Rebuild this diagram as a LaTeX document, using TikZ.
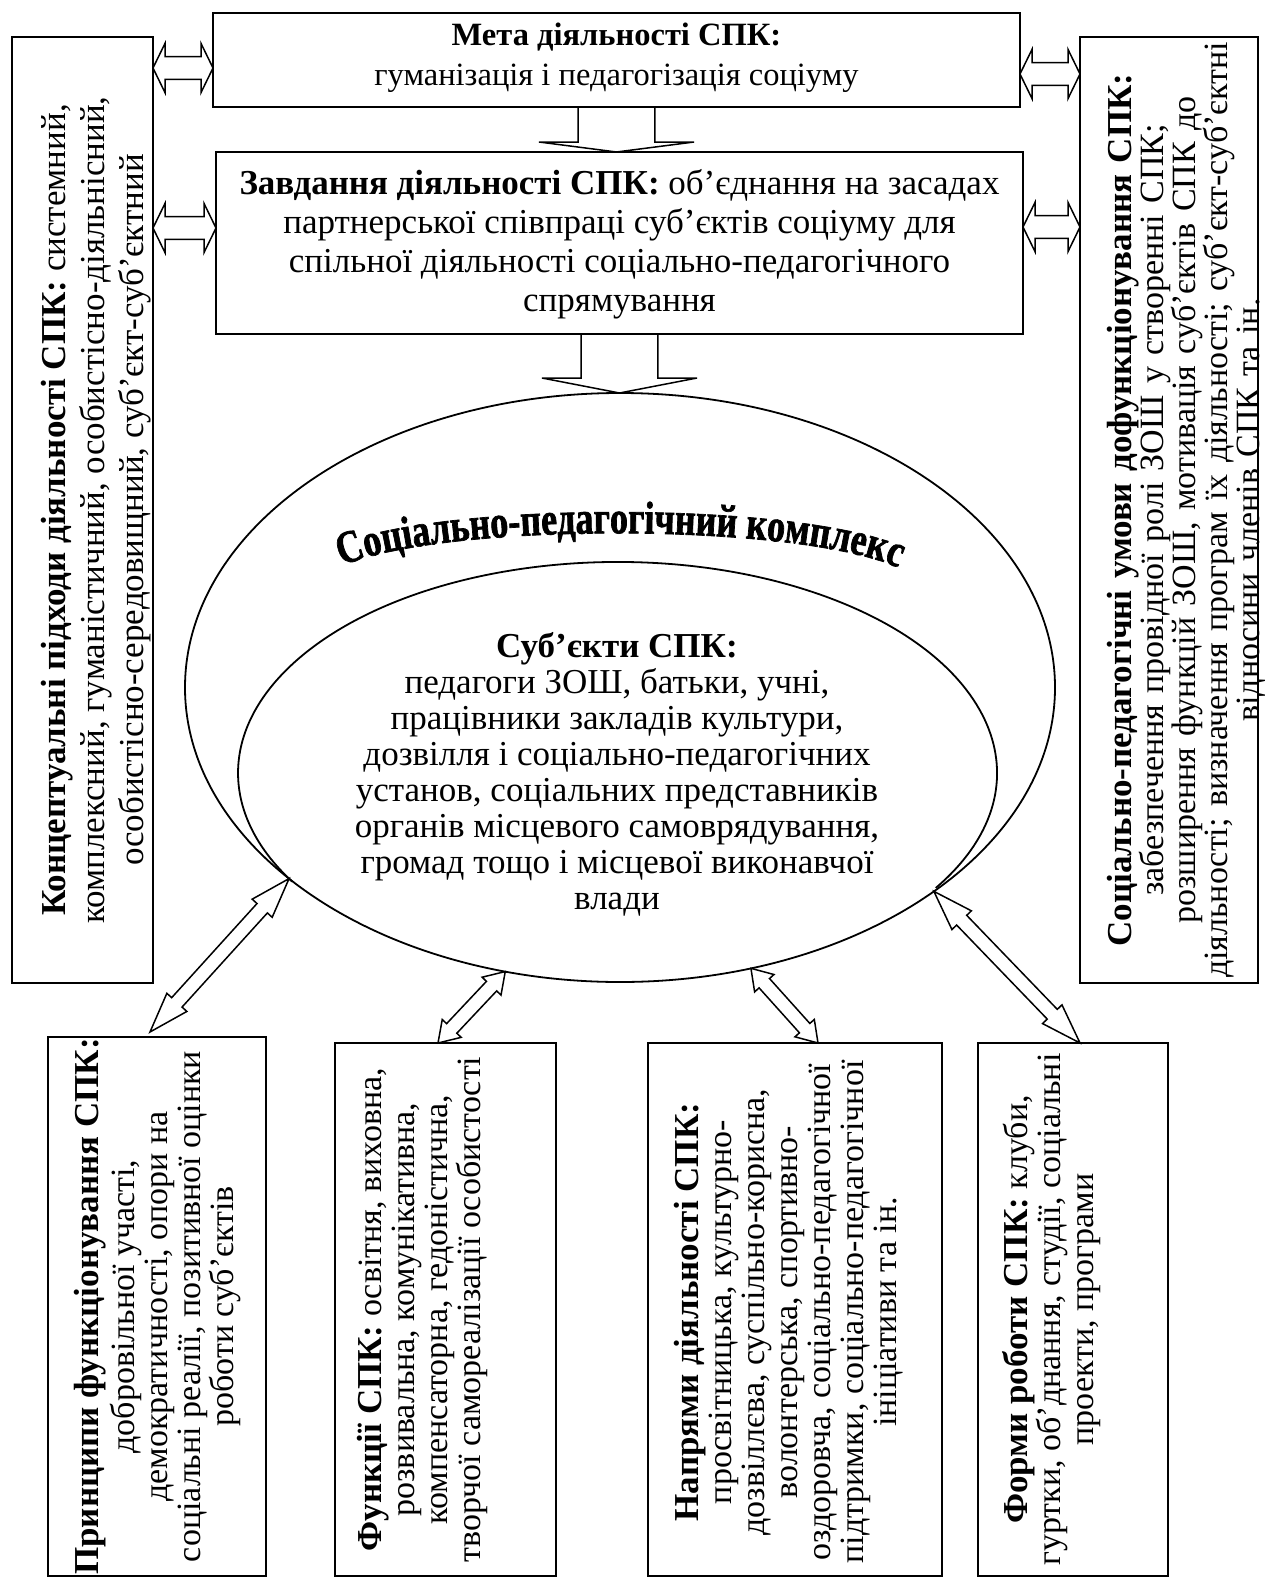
\documentclass[tikz,border=0pt]{standalone}
\usepackage{fontspec}
\setmainfont{Liberation Serif}
\newfontfamily\archfont[FakeStretch=0.78,FakeBold=1.5]{Liberation Serif}
\usetikzlibrary{shapes.geometric,calc,decorations.text}

\newcommand{\bigtxt}{\fontsize{35}{39}\selectfont}
\newcommand{\smtxt}{\fontsize{34}{33}\selectfont}

\tikzstyle{rbox} = [draw, line width=2.2pt, inner sep=0pt, outer sep=0pt]
\tikzstyle{oval} = [draw, ellipse, line width=1.8pt, inner sep=0pt, outer sep=0pt]
\tikzstyle{arr} = [draw, line width=1.5pt]
\tikzstyle{vtxt} = [rotate=90, align=center, inner sep=0pt]

% hollow double arrow: ends, shaft half width, head half width, head length
\newcommand{\dblarr}[5]{%
  \draw[arr] (#1) -- ($(#1)!#5!(#2)!#4!90:(#2)$) -- ($(#1)!#5!(#2)!#3!90:(#2)$)
    -- ($(#2)!#5!(#1)!#3!-90:(#1)$) -- ($(#2)!#5!(#1)!#4!-90:(#1)$) -- (#2)
    -- ($(#2)!#5!(#1)!#4!90:(#1)$) -- ($(#2)!#5!(#1)!#3!90:(#1)$)
    -- ($(#1)!#5!(#2)!#3!-90:(#2)$) -- ($(#1)!#5!(#2)!#4!-90:(#2)$) -- cycle;}
% hollow single arrow
\newcommand{\sglarr}[5]{%
  \draw[arr] ($(#1)!#3!90:(#2)$) -- ($(#2)!#5!(#1)!#3!-90:(#1)$)
    -- ($(#2)!#5!(#1)!#4!-90:(#1)$) -- (#2) -- ($(#2)!#5!(#1)!#4!90:(#1)$)
    -- ($(#2)!#5!(#1)!#3!90:(#1)$) -- ($(#1)!#3!-90:(#2)$) -- cycle;}

\begin{document}
\begin{tikzpicture}[x=1pt,y=-1pt]
\useasboundingbox (0,0) rectangle (1265,1582);

% boxes
\node[rbox, minimum width=141pt, minimum height=946pt] (konc) at (82.5,510) {};
\node[rbox, minimum width=807pt, minimum height=94pt] (meta) at (616.5,60) {};
\node[rbox, minimum width=807pt, minimum height=182pt] (zav) at (619.5,243) {};
\node[rbox, minimum width=178pt, minimum height=946pt] (umovy) at (1169,510) {};
\node[rbox, minimum width=218pt, minimum height=539pt] (prin) at (157,1306.5) {};
\node[rbox, minimum width=221pt, minimum height=533pt] (funk) at (445.5,1309.5) {};
\node[rbox, minimum width=294pt, minimum height=533pt] (napr) at (795,1309.5) {};
\node[rbox, minimum width=190pt, minimum height=533pt] (form) at (1073,1309.5) {};

% the complex: outer oval, inner arc meets it at the two lower arrows
\node[oval, minimum width=870pt, minimum height=589pt] (kompl) at (620,687.5) {};
\draw[line width=1.8pt] (935.8,887.9) arc[start angle=33, end angle=-211, x radius=379.5, y radius=211];

\path[decorate, decoration={text along path, text align=center,
  text={|\archfont\bfseries\fontsize{46}{50}\selectfont|Соціально-педагогічний комплекс}}]
  (330,572) .. controls (415,520) and (825,520) .. (910,574);

% texts
\node[align=center, font=\fontsize{32.5}{40}\selectfont] (metatxt) at (616.5,58)
  {\textbf{Мета діяльності СПК:}\\ гуманізація і педагогізація соціуму};
\node[align=center, font=\bigtxt] (zavtxt) at (619.5,244)
  {\textbf{Завдання діяльності СПК:} об’єднання на засадах\\
   партнерської співпраці суб’єктів соціуму для\\
   спільної діяльності соціально-педагогічного\\ спрямування};
\node[vtxt, font=\bigtxt] (konctxt) at (96,510)
  {\textbf{Концептуальні підходи діяльності СПК:} системний,\\
   комплексний, гуманістичний, особистісно-діяльнісний,\\
   особистісно-середовищний, суб’єкт-суб’єктний};
\node[vtxt, font=\fontsize{34}{32}\selectfont, text width=946pt] (umovytxt) at (1187,510)
  {{\bfseries\fontsize{35}{32}\selectfont Соціально-педагогічні умови дофункціонування СПК:}\\
   забезпечення провідної ролі ЗОШ у створенні СПК;\\
   розширення функцій ЗОШ, мотивація суб’єктів СПК до\\
   \mbox{діяльності; визначення програм їх діяльності; суб’єкт-суб’єктні}\\
   відносини членів СПК та ін.};
\node[align=center, font=\fontsize{35}{36}\selectfont] (subjtxt) at (617,774)
  {\textbf{Суб’єкти СПК:}\\ педагоги ЗОШ, батьки, учні,\\
   працівники закладів культури,\\ дозвілля і соціально-педагогічних\\
   установ, соціальних представників\\ органів місцевого самоврядування,\\
   громад тощо і місцевої виконавчої\\ влади};
\node[vtxt, font=\smtxt] (printxt) at (157.5,1306.5)
  {{\bigtxt\bfseries Принципи функціонування СПК:}\\[3pt] добровільної участі,\\
   демократичності, опори на\\ соціальні реалії, позитивної оцінки\\ роботи суб’єктів};
\node[vtxt, font=\smtxt] (funktxt) at (422,1309.5)
  {{\bigtxt\bfseries Функції СПК:} освітня, виховна,\\ розвивальна, комунікативна,\\
   компенсаторна, гедоністична,\\ творчої самореалізації особистості};
\node[vtxt, font=\smtxt] (naprtxt) at (789,1312)
  {{\bigtxt\bfseries Напрями діяльності СПК:}\\ просвітницька, культурно-\\
   дозвіллєва, суспільно-корисна,\\ волонтерська, спортивно-\\
   оздоровча, соціально-педагогічної\\ підтримки, соціально-педагогічної\\
   ініціативи та ін.};
\node[vtxt, font=\smtxt] (formtxt) at (1052,1309.5)
  {{\bigtxt\bfseries Форми роботи СПК:} клуби,\\ гуртки, об’днання, студії, соціальні\\
   проекти, програми};

% side arrows
\coordinate (a1) at ([yshift=-8pt]meta.west);
\coordinate (a1k) at (konc.east |- a1);
\dblarr{a1k}{a1}{11.3pt}{24.6pt}{12pt}
\coordinate (a2) at ([yshift=15pt]zav.west);
\coordinate (a2k) at (konc.east |- a2);
\dblarr{a2k}{a2}{11.3pt}{24.6pt}{12pt}
\coordinate (r1) at ([yshift=-14pt]meta.east);
\coordinate (r1u) at (umovy.west |- r1);
\dblarr{r1}{r1u}{11.3pt}{24.6pt}{12pt}
\coordinate (r2) at ([yshift=16pt]zav.east);
\coordinate (r2u) at (umovy.west |- r2);
\dblarr{r2}{r2u}{11.3pt}{24.6pt}{12pt}

% down arrows
\coordinate (d1) at (meta.south |- zav.north);
\sglarr{meta.south}{d1}{38.3pt}{77.5pt}{10pt}
\coordinate (d2) at (zav.south |- kompl.north);
\sglarr{zav.south}{d2}{38.3pt}{77.5pt}{15pt}

% arrows to the lower boxes
\coordinate (b1) at ([xshift=102pt,yshift=5pt]prin.north west);
\dblarr{kompl.210.6}{b1}{7pt}{13.5pt}{40pt}
\coordinate (b2) at ([xshift=103pt]funk.north west);
\dblarr{kompl.248}{b2}{7pt}{13pt}{20pt}
\coordinate (b3) at ([xshift=170pt]napr.north west);
\dblarr{kompl.295.2}{b3}{7pt}{13pt}{20pt}
\coordinate (b4) at ([xshift=102pt]form.north west);
\dblarr{kompl.327.8}{b4}{7pt}{13.5pt}{40pt}
\end{tikzpicture}
\end{document}
